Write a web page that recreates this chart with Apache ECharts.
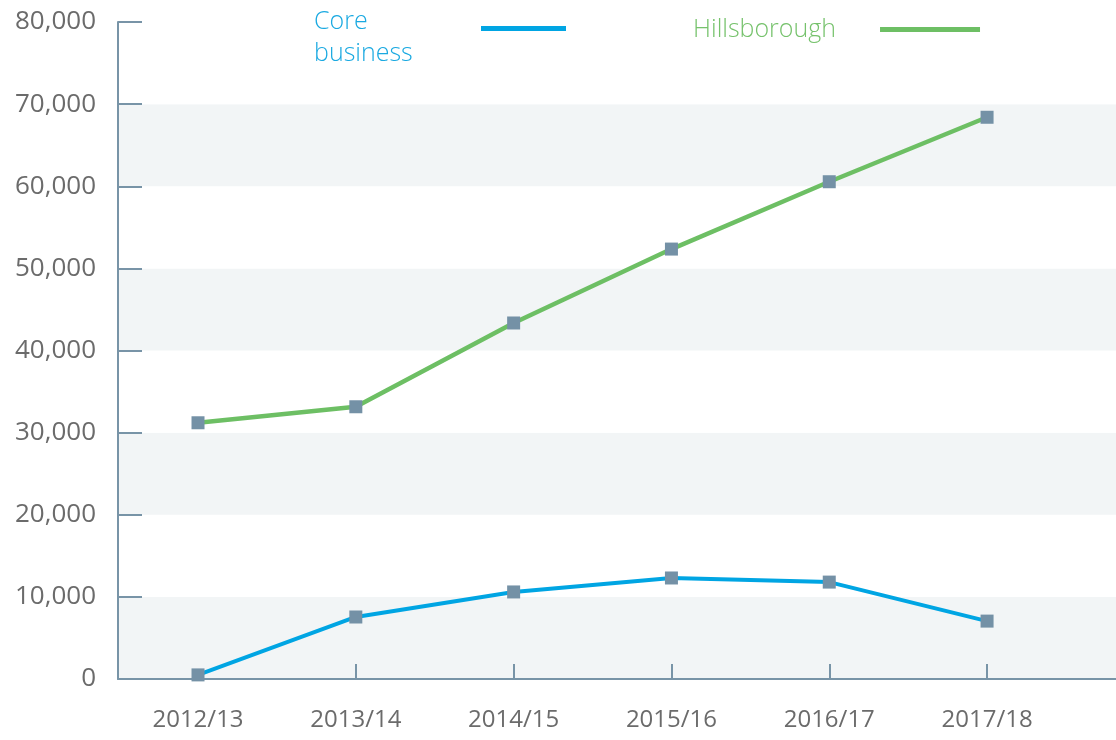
<!DOCTYPE html>
<html>
<head>
<meta charset="utf-8">
<title>Core business / Hillsborough</title>
<script src="https://cdn.jsdelivr.net/npm/echarts@6/dist/echarts.min.js"></script>
<style>
    html, body { margin: 0; padding: 0; background: #fff; }
    #main { width: 1116px; height: 740px; }
</style>
</head>
<body>
<div id="main"></div>
<script>
// 数据
var categories = ['2012/13', '2013/14', '2014/15', '2015/16', '2016/17', '2017/18'];
var coreBusiness = [500, 7550, 10600, 12300, 11800, 7050];
var hillsborough = [31200, 33150, 43350, 52350, 60550, 68400];
var yTicks = [0, 10000, 20000, 30000, 40000, 50000, 60000, 70000, 80000];

var axisColor = '#7894a7';
var labelColor = '#6b6b6b';
var blue = '#00a5e3';
var green = '#6dbf64';
var font = '"Open Sans", sans-serif';

function toPoints(values) {
    return values.map(function (v, i) { return [i, v]; });
}

var myChart = echarts.init(document.getElementById('main'));

option = {
    backgroundColor: '#fff',
    animation: false,
    grid: {
        left: 118,
        right: 0,
        top: 22,
        bottom: 61
    },
    legend: [
        {
            data: [{ name: 'Core business', itemStyle: { color: blue } }],
            left: 309,
            top: 4,
            align: 'right',
            icon: 'rect',
            itemWidth: 85,
            itemHeight: 5,
            formatter: '{a|Core}\n{a|business}',
            textStyle: {
                color: '#1aa9e1',
                fontFamily: font,
                fontWeight: 300,
                fontSize: 25,
                padding: [18, 62, 0, 0],
                rich: {
                    a: { width: 100, align: 'left', fontSize: 25, lineHeight: 32, color: '#1aa9e1', fontFamily: font, fontWeight: 300 }
                }
            }
        },
        {
            data: [{ name: 'Hillsborough', itemStyle: { color: green } }],
            left: 688,
            top: 12,
            align: 'right',
            icon: 'rect',
            itemWidth: 100,
            itemHeight: 5,
            textStyle: {
                color: '#76c26c',
                fontFamily: font,
                fontWeight: 300,
                fontSize: 25,
                padding: [0, 39, 0, 0]
            }
        }
    ],
    xAxis: {
        type: 'value',
        min: -0.507,
        max: 5.817,
        splitLine: { show: false },
        axisLine: { show: true, lineStyle: { color: axisColor, width: 2 } },
        axisTick: {
            show: true,
            inside: true,
            length: 15,
            lineStyle: { color: axisColor, width: 2 },
            customValues: [1, 2, 3, 4, 5]
        },
        axisLabel: {
            customValues: [0, 1, 2, 3, 4, 5],
            formatter: function (v) { return categories[Math.round(v)]; },
            color: labelColor,
            fontFamily: font,
            fontSize: 24,
            margin: 29
        }
    },
    yAxis: {
        type: 'value',
        min: yTicks[0],
        max: yTicks[yTicks.length - 1],
        interval: 10000,
        axisLine: { show: true, onZero: false, lineStyle: { color: axisColor, width: 2 } },
        axisTick: {
            show: true,
            inside: true,
            length: 24,
            lineStyle: { color: axisColor, width: 2 }
        },
        axisLabel: {
            color: labelColor,
            fontFamily: font,
            fontSize: 26,
            margin: 22,
            formatter: function (v) { return v.toLocaleString('en-US'); }
        },
        splitLine: { show: false },
        splitArea: {
            show: true,
            areaStyle: { color: ['#f2f5f6', '#ffffff'] }
        }
    },
    series: [
        {
            name: 'Core business',
            type: 'line',
            data: toPoints(coreBusiness),
            symbol: 'rect',
            symbolSize: 13,
            lineStyle: { color: blue, width: 4 },
            itemStyle: { color: '#7491a6' }
        },
        {
            name: 'Hillsborough',
            type: 'line',
            data: toPoints(hillsborough),
            symbol: 'rect',
            symbolSize: 13,
            lineStyle: { color: green, width: 4.5 },
            itemStyle: { color: '#7491a6' }
        }
    ]
};

myChart.setOption(option, true);
</script>
</body>
</html>
